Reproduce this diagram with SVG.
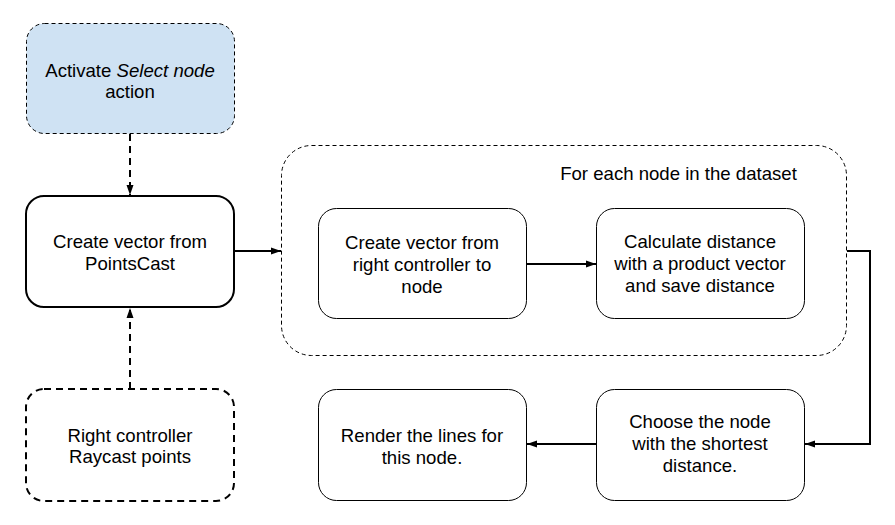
<svg xmlns="http://www.w3.org/2000/svg" width="895" height="525" viewBox="0 0 895 525">
<style>
.t{font-family:"Liberation Sans",Arial,sans-serif;font-size:18.6px;fill:#000;text-anchor:middle}
.box{fill:#fff;stroke:#000;stroke-width:1}
.bold{fill:#fff;stroke:#000;stroke-width:2}
.dthin{stroke-dasharray:4,3}
.dthick{stroke-dasharray:7,5}
.c{fill:none;stroke:#000;stroke-width:2}
</style>
<defs>
<marker id="ah" viewBox="0 0 10 10" refX="10" refY="5" markerWidth="5" markerHeight="5" orient="auto" markerUnits="strokeWidth">
<path d="M0,1.5 L10,5 L0,8.5 z" fill="#000"/>
</marker>
</defs>
<rect width="895" height="525" fill="#fff"/>
<g id="loop">
<rect x="281.5" y="145.5" width="565" height="210" rx="30" class="box dthin" fill="none"/>
<text class="t" x="678.5" y="180">For each node in the dataset</text>
</g>
<g id="activate">
<rect x="26.5" y="23.5" width="208" height="110" rx="18" fill="#cfe2f3" stroke="#000" stroke-width="1" class="dthin"/>
<text class="t" x="130" y="77">Activate <tspan font-style="italic">Select node</tspan></text>
<text class="t" x="130" y="98">action</text>
</g>
<g id="createPoints">
<rect x="26" y="196" width="208" height="111" rx="18" class="bold"/>
<text class="t" x="130" y="248">Create vector from</text>
<text class="t" x="130" y="270">PointsCast</text>
</g>
<g id="rightController">
<rect x="26" y="389" width="208" height="112" rx="18" class="bold dthick"/>
<text class="t" x="130" y="442">Right controller</text>
<text class="t" x="130" y="463">Raycast points</text>
</g>
<g id="createRight">
<rect x="318.5" y="208.5" width="208" height="110" rx="18" class="box"/>
<text class="t" x="422" y="249">Create vector from</text>
<text class="t" x="422" y="271">right controller to</text>
<text class="t" x="422" y="293">node</text>
</g>
<g id="calculate">
<rect x="596.5" y="208.5" width="208" height="110" rx="18" class="box"/>
<text class="t" x="700" y="248">Calculate distance</text>
<text class="t" x="700" y="270">with a product vector</text>
<text class="t" x="700" y="292">and save distance</text>
</g>
<g id="choose">
<rect x="596.5" y="389.5" width="208" height="111" rx="18" class="box"/>
<text class="t" x="700" y="428">Choose the node</text>
<text class="t" x="700" y="450">with the shortest</text>
<text class="t" x="700" y="472">distance.</text>
</g>
<g id="render">
<rect x="318.5" y="389.5" width="208" height="111" rx="18" class="box"/>
<text class="t" x="422" y="442">Render the lines for</text>
<text class="t" x="422" y="464">this node.</text>
</g>
<g id="connectors">
<line x1="130" y1="134" x2="130" y2="195" class="c dthick" marker-end="url(#ah)"/>
<line x1="130" y1="389" x2="130" y2="308" class="c dthick" marker-end="url(#ah)"/>
<line x1="234" y1="251" x2="281" y2="251" class="c" marker-end="url(#ah)"/>
<line x1="527" y1="264" x2="596" y2="264" class="c" marker-end="url(#ah)"/>
<polyline points="847,251 870,251 870,444 805,444" class="c" marker-end="url(#ah)"/>
<line x1="596" y1="444" x2="527" y2="444" class="c" marker-end="url(#ah)"/>
</g>
</svg>
